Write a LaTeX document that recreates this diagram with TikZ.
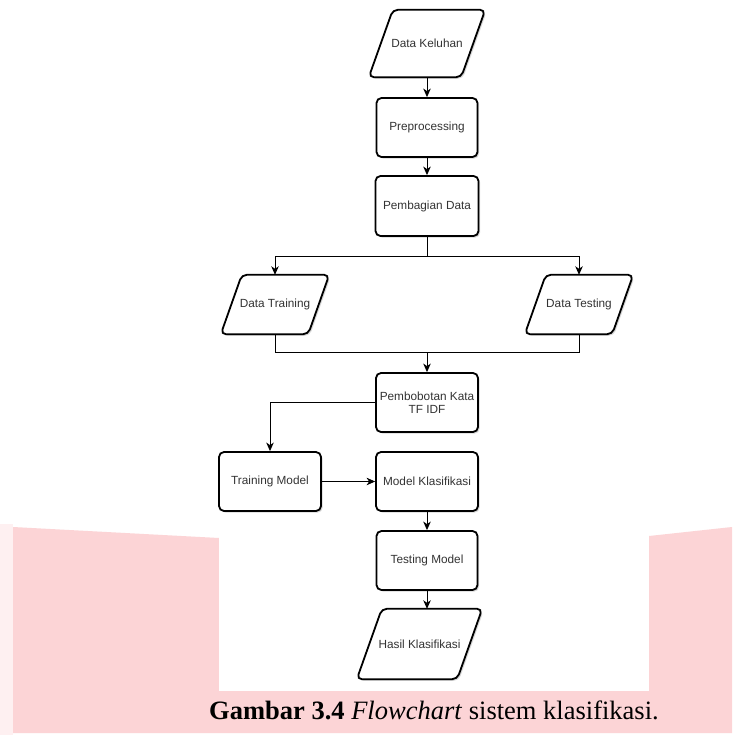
\documentclass[tikz,border=0pt]{standalone}
\usepackage{fontspec}
\setmainfont{Liberation Serif}
\newfontfamily\boxfont{Liberation Sans}
\usetikzlibrary{arrows.meta,shadows,calc}
\definecolor{pinkbg}{RGB}{252,212,214}
\definecolor{txt}{RGB}{51,51,51}
\pgfdeclarelayer{bglayer}
\pgfdeclarelayer{shapelayer}
\pgfsetlayers{bglayer,shapelayer,main}
\begin{document}
\begin{tikzpicture}[x=1pt,y=-1pt,
  boxfontsize/.style={font=\boxfont\fontsize{11.8}{13.5}\selectfont, text=txt},
  shad/.style={drop shadow={shadow xshift=1.6pt, shadow yshift=-1.6pt, fill=black!45, opacity=0.35}},
  proc/.style={draw, line width=1.8pt, rounded corners=5pt, fill=white, shad,
    minimum width=101pt, minimum height=59pt, inner sep=1pt, align=center, boxfontsize},
  iobox/.style={inner sep=0pt, align=center, boxfontsize},
  iopath/.style={draw, line width=1.8pt, rounded corners=5pt, fill=white, shad},
  conn/.style={line width=0.9pt, -{Stealth[length=8.5pt,width=7.5pt,inset=2.5pt]}},
  plain/.style={line width=0.9pt}
]
\useasboundingbox (0,0) rectangle (732,735);
\begin{pgfonlayer}{bglayer}
  \fill[white] (0,0) rectangle (732,735);
  \fill[pinkbg!35] (0,524) rectangle (13,735);
  \fill[pinkbg] (13,527) -- (219,538) -- (649,536) -- (732,527) -- (732,733) -- (13,733) -- cycle;
  \fill[white] (219,0) rectangle (649,691);
\end{pgfonlayer}

% nodes
\node[iobox, minimum width=116pt, minimum height=67pt] (dk) at (427,43.5) {Data Keluhan};
\node[proc] (pp) at (427,127.5) {Preprocessing};
\node[proc, minimum width=103pt, minimum height=60pt] (pb) at (427,206) {Pembagian Data};
\node[iobox, minimum width=108pt, minimum height=59pt] (dtr) at (275,304.5) {Data Training};
\node[iobox, minimum width=108pt, minimum height=59pt] (dte) at (579,304.5) {Data Testing};
\node[proc, minimum width=102pt] (pw) at (427,402.5) {Pembobotan Kata\\[-1pt]TF IDF};
\node[proc, minimum width=102pt] (tm) at (270,481.5) {Training Model};
\node[proc, minimum width=102pt] (mk) at (427,481.5) {Model Klasifikasi};
\node[proc] (ts) at (427,560.5) {Testing Model};
\node[iobox, minimum width=125pt, minimum height=70pt] (hk) at (419.5,644) {Hasil Klasifikasi};

% parallelograms
\begin{pgfonlayer}{shapelayer}
  \draw[iopath] ($(dk.north west)+(24,0)$) -- (dk.north east) -- ($(dk.south east)-(24,0)$) -- (dk.south west) -- cycle;
  \draw[iopath] ($(dtr.north west)+(21,0)$) -- (dtr.north east) -- ($(dtr.south east)-(21,0)$) -- (dtr.south west) -- cycle;
  \draw[iopath] ($(dte.north west)+(21,0)$) -- (dte.north east) -- ($(dte.south east)-(21,0)$) -- (dte.south west) -- cycle;
  \draw[iopath] ($(hk.north west)+(25,0)$) -- (hk.north east) -- ($(hk.south east)-(25,0)$) -- (hk.south west) -- cycle;
\end{pgfonlayer}

% connectors
\draw[conn] (dk.south) -- (dk.south |- pp.north);
\draw[conn] (pp.south) -- (pb.north);
\coordinate (split) at ($(pb.south)+(0,20)$);
\draw[conn] (pb.south) -- (split) -| (dtr.north);
\draw[conn] (split) -| (dte.north);
\coordinate (merge) at ($(pw.north)+(0,-20)$);
\draw[plain] (dtr.south) |- (merge);
\draw[plain] (dte.south) |- (merge);
\draw[conn] (merge) -- (pw.north);
\draw[conn] (pw.west) -| (tm.north);
\draw[conn] (tm.east) -- (mk.west);
\draw[conn] (mk.south) -- (ts.north);
\draw[conn] (ts.south) -- (ts.south |- hk.north);

% caption
\node[anchor=base west, inner sep=0pt, font=\fontsize{26.5}{30}\selectfont] (cap) at (209,719)
  {\textbf{Gambar 3.4} \textit{Flowchart} sistem klasifikasi.};
\end{tikzpicture}
\end{document}
